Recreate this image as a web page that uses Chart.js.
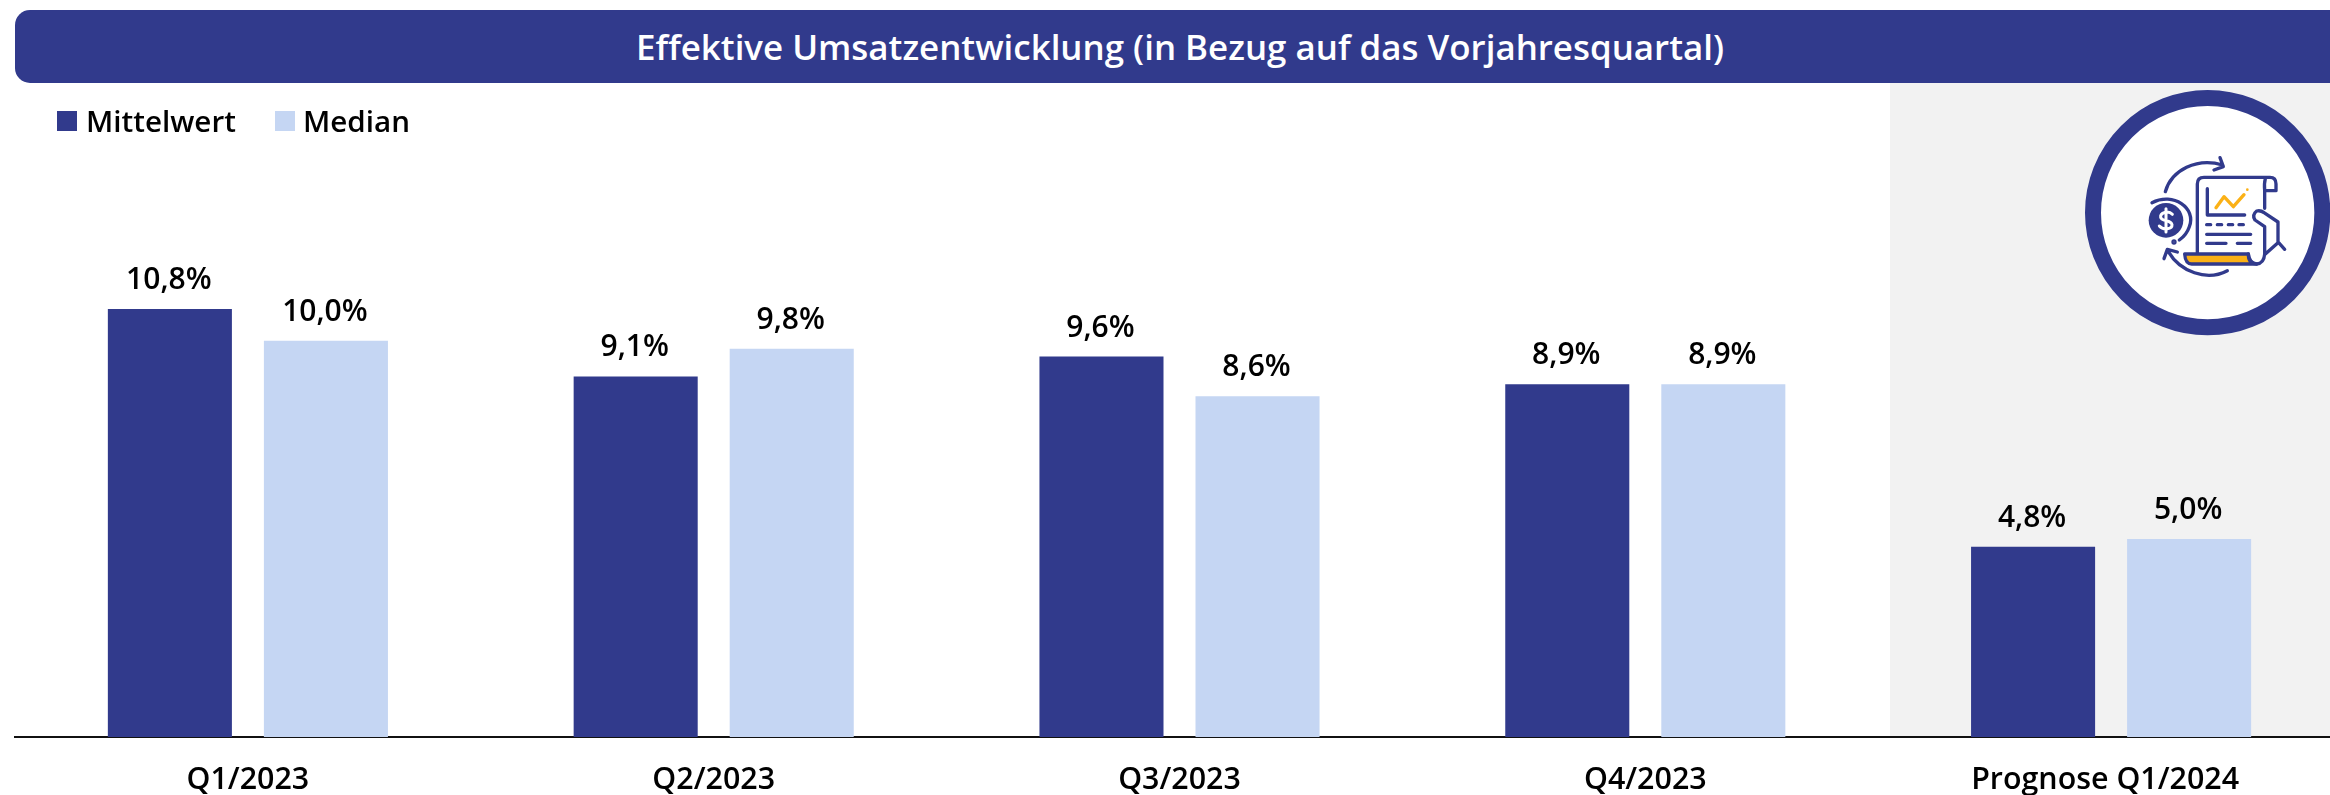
<!DOCTYPE html>
<html lang="de"><head><meta charset="utf-8">
<script src="https://cdn.jsdelivr.net/npm/chart.js@4"></script>
<style>
html,body{margin:0;padding:0;width:2330px;height:795px;overflow:hidden;background:#fff;font-family:"Open Sans",sans-serif}
#panel{position:absolute;left:1890px;top:83px;width:440px;height:654px;background:#f2f2f2}
#chartBox{position:absolute;left:0;top:0;width:2344px;height:795px}
#bar{position:absolute;left:15px;top:10px;width:2330px;height:73px;border-radius:15px 0 0 15px;background:#313a8c;color:#fff;font-weight:600;font-size:34.9px;line-height:73px;text-align:center;white-space:nowrap}
.lg{position:absolute;top:98px;line-height:46px;font-size:29.6px;font-weight:600;color:#000;white-space:nowrap}
.sw{position:absolute;top:111px;width:20px;height:20px}
#icon{position:absolute;left:2040px;top:70px;width:290px;height:280px}
</style></head><body>
<div id="panel"></div>
<div id="chartBox"><canvas id="c" width="2344" height="795"></canvas></div>
<div id="bar">Effektive Umsatzentwicklung (in Bezug auf das Vorjahresquartal)</div>
<div id="legend"></div>
<svg id="icon" viewBox="0 0 870 840" fill="none" stroke="#313a8c" stroke-width="10" stroke-linecap="round" stroke-linejoin="round">
<circle cx="503" cy="428" r="344" fill="#fff" stroke-width="48"/>
<path d="M376 365C395 300 470 262 548 285M540 263L550 290L522 300"/>
<path d="M562 602C500 635 420 605 385 545M372 566L382 538L412 546"/>
<path d="M336 398C400 365 470 415 448 470C442 488 432 500 418 510"/>
<circle cx="378" cy="451" r="52" fill="#313a8c" stroke="none"/>
<path d="M397 433C385 420 360 428 362 442C364 456 394 448 396 464C397 478 370 482 358 468M378 416V486" stroke="#fff" stroke-width="9"/>
<circle cx="402" cy="516" r="3" fill="#313a8c"/>
<path d="M472 548V342Q472 322 492 322H690Q708 322 708 342V362H674M676 326Q672 340 674 362V415"/>
<path d="M502 356V435H614"/>
<path d="M528 413L552 380L580 410L612 374" stroke="#fbb116"/>
<circle cx="622" cy="359" r="4" fill="#fbb116" stroke="none"/>
<path d="M500 464H512M532 464H545M565 464H578M597 464H610M500 493H632M500 520H558M592 520H632"/>
<path d="M434 552H625Q625 582 650 582H455Q436 582 434 552Z" fill="#fbb116"/>
<path d="M625 552Q628 580 650 582Q672 580 674 552V470L645 450Q635 435 650 423Q662 420 672 428L714 456V518L676 552M716 518L734 538"/>
</svg>
<script>
const categories = ["Q1/2023", "Q2/2023", "Q3/2023", "Q4/2023", "Prognose Q1/2024"];
const mittelwert = [10.8, 9.1, 9.6, 8.9, 4.8];
const median = [10.0, 9.8, 8.6, 8.9, 5.0];
const seriesNames = ["Mittelwert", "Median"];
const seriesColors = ["#313a8c", "#c5d6f3"];
const FONT = '"Open Sans", sans-serif';

const valueLabels = {
  id: 'valueLabels',
  afterDatasetsDraw(chart) {
    const ctx = chart.ctx;
    ctx.save();
    ctx.font = '600 30px ' + FONT;
    ctx.fillStyle = '#000';
    ctx.textAlign = 'center';
    ctx.textBaseline = 'alphabetic';
    chart.data.datasets.forEach((ds, i) => {
      chart.getDatasetMeta(i).data.forEach((el, j) => {
        ctx.fillText(ds.data[j].toFixed(1).replace('.', ',') + '%', el.x - 1, el.y - 20);
      });
    });
    ctx.restore();
  }
};

/* the forecast category's label sits slightly left of its group in the reference */
let tickNudged = false;
const nudgeLastTick = {
  id: 'nudgeLastTick',
  beforeDraw(chart) {
    if (tickNudged) return;
    const items = chart.scales.x.getLabelItems();
    const last = items[items.length - 1];
    if (last && last.options && last.options.translation) {
      last.options.translation[0] -= 6;
      tickNudged = true;
    }
  }
};

const chart = new Chart(document.getElementById('c'), {
  type: 'bar',
  data: {
    labels: categories,
    datasets: [
      { label: seriesNames[0], data: mittelwert, backgroundColor: seriesColors[0] },
      { label: seriesNames[1], data: median, backgroundColor: seriesColors[1] }
    ]
  },
  plugins: [valueLabels, nudgeLastTick],
  options: {
    responsive: false,
    animation: false,
    devicePixelRatio: 1,
    categoryPercentage: 0.67,
    barPercentage: 0.795,
    layout: { padding: { left: 15, right: 0, top: 103, bottom: 0 } },
    plugins: { legend: { display: false }, title: { display: false }, tooltip: { enabled: false } },
    scales: {
      y: { display: false, min: 0, max: 16, grid: { display: false } },
      x: {
        grid: { display: false, drawTicks: false },
        border: { display: true, color: '#111', width: 2 },
        ticks: { color: '#000', font: { family: FONT, size: 30.4, weight: '600' }, padding: 25, maxRotation: 0 },
        afterFit(scale) { scale.height = 58; }
      }
    }
  }
});

const legend = document.getElementById('legend');
const swX = [57, 275], txtX = [86, 303];
seriesNames.forEach((n, i) => {
  const s = document.createElement('div'); s.className = 'sw';
  s.style.left = swX[i] + 'px'; s.style.background = seriesColors[i]; legend.appendChild(s);
  const t = document.createElement('div'); t.className = 'lg';
  t.style.left = txtX[i] + 'px'; t.textContent = n; legend.appendChild(t);
});
</script>
</body></html>
